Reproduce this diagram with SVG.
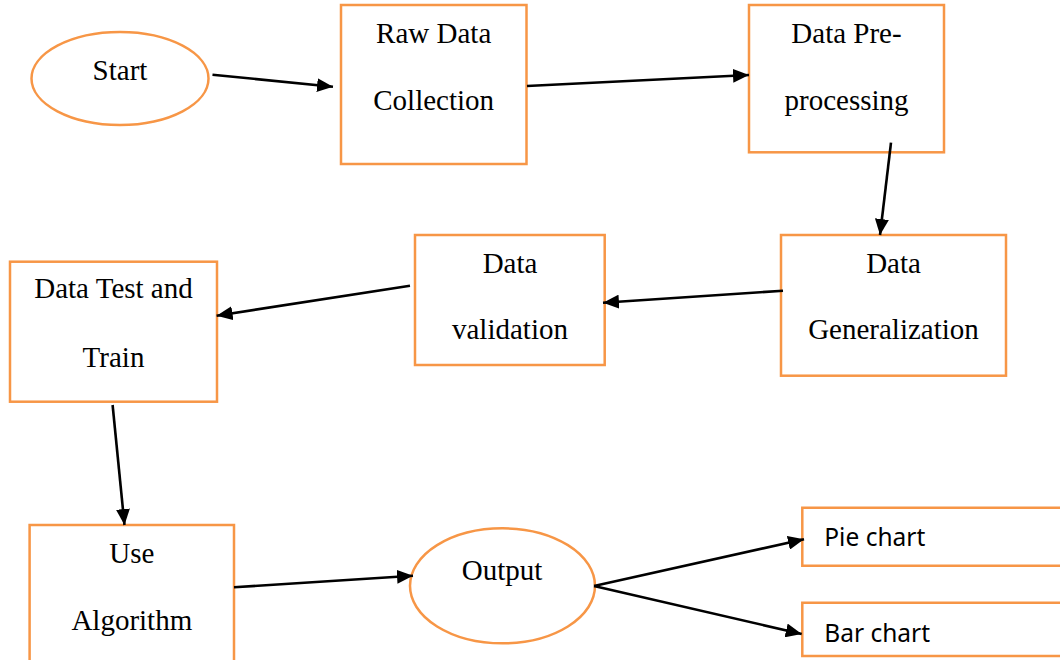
<svg xmlns="http://www.w3.org/2000/svg" width="1060" height="660" viewBox="0 0 1060 660">
<style>
.box{fill:#fff;stroke:#F79646;stroke-width:2.5}
.t{font-family:"Liberation Serif","Times New Roman",serif;font-size:29px;fill:#000;text-anchor:middle}
.s{font-family:"Noto Sans","Liberation Sans",sans-serif;font-size:24.5px;fill:#000}
.c{fill:none;stroke:#000;stroke-width:2.6;marker-end:url(#ah)}
</style>
<defs>
<marker id="ah" markerUnits="userSpaceOnUse" viewBox="0 0 16 14" markerWidth="16" markerHeight="14" refX="16" refY="7" orient="auto">
<path d="M0,0 L16,7 L0,14 z" fill="#000"/>
</marker>
</defs>
<rect width="1060" height="660" fill="#fff"/>
<g id="start">
<ellipse class="box" cx="120" cy="78.5" rx="88.5" ry="46.5"/>
<text class="t" x="120" y="80">Start</text>
</g>
<g id="raw">
<rect class="box" x="341" y="5" width="185.5" height="159"/>
<text class="t" x="433.7" y="43.3">Raw Data</text>
<text class="t" x="433.7" y="110">Collection</text>
</g>
<g id="pre">
<rect class="box" x="749" y="5" width="195" height="147.3"/>
<text class="t" x="846.5" y="43.3">Data Pre-</text>
<text class="t" x="846.5" y="110">processing</text>
</g>
<g id="gen">
<rect class="box" x="781" y="235" width="225" height="140.7"/>
<text class="t" x="893.5" y="273.3">Data</text>
<text class="t" x="893.5" y="339.3">Generalization</text>
</g>
<g id="val">
<rect class="box" x="415" y="235" width="189.7" height="130"/>
<text class="t" x="510" y="273.3">Data</text>
<text class="t" x="510" y="339.3">validation</text>
</g>
<g id="testtrain">
<rect class="box" x="10" y="261.7" width="207" height="140"/>
<text class="t" x="113.5" y="298.3">Data Test and</text>
<text class="t" x="113.5" y="366.7">Train</text>
</g>
<g id="algo">
<path class="box" d="M29.6,662 V525 H234 V662"/>
<text class="t" x="131.8" y="563.3">Use</text>
<text class="t" x="131.8" y="630">Algorithm</text>
</g>
<g id="output">
<ellipse class="box" cx="502.5" cy="585.8" rx="92.5" ry="57.5"/>
<text class="t" x="502" y="580">Output</text>
</g>
<g id="pie">
<path class="box" d="M1062,507.7 H802.3 V565.7 H1062"/>
<text class="s" x="824.3" y="545.7">Pie chart</text>
</g>
<g id="bar">
<path class="box" d="M1062,602.7 H802.3 V656 H1062"/>
<text class="s" x="824.3" y="641.7">Bar chart</text>
</g>
<g id="connectors">
<line class="c" x1="212.5" y1="74.7" x2="333" y2="86.7"/>
<line class="c" x1="527" y1="86" x2="749" y2="75"/>
<line class="c" x1="891" y1="142.7" x2="880" y2="235"/>
<line class="c" x1="783" y1="290.7" x2="603" y2="302.7"/>
<line class="c" x1="410" y1="285.7" x2="216.6" y2="315.7"/>
<line class="c" x1="112.6" y1="405" x2="124.5" y2="525"/>
<line class="c" x1="234" y1="587.3" x2="413" y2="575.7"/>
<line class="c" x1="594" y1="586" x2="804" y2="539.3"/>
<line class="c" x1="594" y1="586" x2="801.7" y2="634"/>
</g>
</svg>
